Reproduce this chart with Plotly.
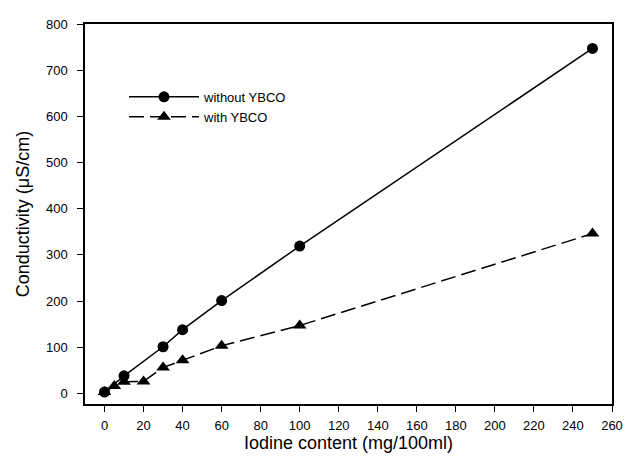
import plotly.graph_objects as go

iodine_without = [0, 10, 30, 40, 60, 100, 250]
cond_without = [3, 38, 101, 138, 201, 319, 747]

iodine_with = [0, 5, 10, 20, 30, 40, 60, 100, 250]
cond_with = [3, 16, 25, 26, 56, 72, 103, 147, 346]

x_ticks = list(range(0, 261, 20))
y_ticks = list(range(0, 801, 100))

FONT = "Liberation Sans, Arial"

fig = go.Figure()
fig.add_trace(go.Scatter(
    x=iodine_without, y=cond_without, mode="lines+markers", name="without YBCO",
    line=dict(color="black", width=1.5),
    marker=dict(symbol="circle", size=11, color="black")))
fig.add_trace(go.Scatter(
    x=iodine_with, y=cond_with, mode="lines+markers", name="with YBCO",
    line=dict(color="black", width=1.5, dash="15px,6px"),
    marker=dict(symbol="triangle-up", size=12, color="black")))

axis_common = dict(showgrid=False, zeroline=False, showline=True, linecolor="black",
                   linewidth=1.5, mirror=True, ticks="outside", ticklen=6,
                   tickwidth=1.2, tickcolor="black",
                   tickfont=dict(family=FONT, size=13, color="black"))

fig.update_layout(
    width=624, height=455,
    margin=dict(l=77, r=10, t=9, b=59),
    paper_bgcolor="white", plot_bgcolor="white",
    font=dict(family=FONT, color="black"),
    xaxis=dict(range=[-10, 260], tickvals=x_ticks, ticklabelstandoff=3,
               title=dict(text="Iodine content (mg/100ml)", font=dict(size=18), standoff=2),
               **axis_common),
    yaxis=dict(range=[-23, 800], tickvals=y_ticks, ticklabelstandoff=7,
               title=dict(text="Conductivity (μS/cm)", font=dict(size=18), standoff=12),
               **axis_common),
    legend=dict(x=0.074, y=0.782, xanchor="left", yanchor="middle",
                bgcolor="rgba(0,0,0,0)", font=dict(size=13), itemwidth=70,
                tracegroupgap=2),
    showlegend=True,
)

fig.write_html("out.html")
